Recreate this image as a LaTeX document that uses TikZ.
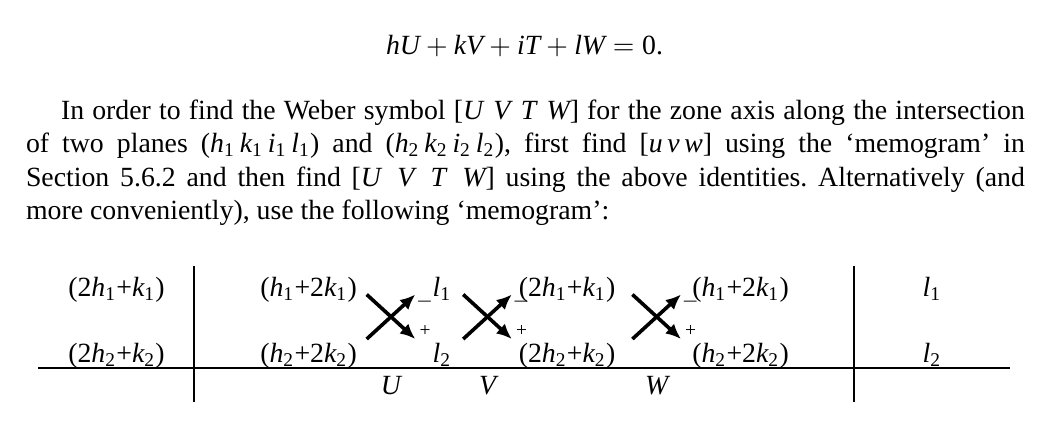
\documentclass[tikz,border=0pt]{standalone}
\usepackage[no-math]{fontspec}
\setmainfont{Liberation Serif}[NFSSFamily=libserif]
\DeclareSymbolFont{letters}{TU}{libserif}{m}{it}
\DeclareSymbolFont{operators}{TU}{libserif}{m}{n}
\DeclareSymbolFont{cmops}{OT1}{cmr}{m}{n}
\DeclareMathSymbol{+}{\mathbin}{cmops}{"2B}
\DeclareMathSymbol{=}{\mathrel}{cmops}{"3D}
\DeclareMathSymbol{\tplus}{\mathord}{operators}{"2B}
\usepackage{tikz}
\usetikzlibrary{arrows.meta}
\tikzset{
    memo-text/.style = {anchor=base, inner sep=0pt},
    memo-sign/.style = {inner sep=0pt, font=\scriptsize},
    memo-arrow/.style = {line width=1.3pt, -{Latex[length=5.5pt,width=4.8pt]}},
    memo-rule/.style = {line width=0.4pt},
    body-text/.style = {anchor=base west, inner sep=0pt},
}

\begin{document}
\begin{tikzpicture}[x=0.36pt, y=-0.36pt, font=\fontsize{10}{12}\selectfont]
\useasboundingbox (0,0) rectangle (1064,426);

\node[memo-text] (identity) at (524.5,54) {$hU+kV+iT+lW=0$.};

\node[body-text] (body) at (25.5,119.4) {\begin{minipage}[t]{359.6pt}\frenchspacing
    \hspace*{12.6pt}In order to find the Weber symbol $[U\;V\;T\;W]$ for the zone axis along the intersection\linebreak
    of two planes $(h_1\,k_1\,i_1\,l_1)$ and $(h_2\,k_2\,i_2\,l_2)$, first find $[u\,v\,w]$ using the ‘memogram’ in\linebreak
    Section 5.6.2 and then find $[U\;V\;T\;W]$ using the above identities. Alternatively (and\linebreak
    more conveniently), use the following ‘memogram’:
\end{minipage}};

% memogram
\node[memo-text] (row1-a) at (116.5,296.5) {$(2h_1\tplus k_1)$};
\node[memo-text] (row2-a) at (116.5,362) {$(2h_2\tplus k_2)$};
\node[memo-text] (row1-b) at (308.5,296.5) {$(h_1\tplus 2k_1)$};
\node[memo-text] (row2-b) at (308.5,362) {$(h_2\tplus 2k_2)$};
\node[memo-text] (row1-c) at (442,296.5) {$l_1$};
\node[memo-text] (row2-c) at (442,362) {$l_2$};
\node[memo-text] (row1-d) at (567,296.5) {$(2h_1\tplus k_1)$};
\node[memo-text] (row2-d) at (567,362) {$(2h_2\tplus k_2)$};
\node[memo-text] (row1-e) at (740.5,296.5) {$(h_1\tplus 2k_1)$};
\node[memo-text] (row2-e) at (740.5,362) {$(h_2\tplus 2k_2)$};
\node[memo-text] (row1-f) at (932,296.5) {$l_1$};
\node[memo-text] (row2-f) at (932,362) {$l_2$};

\coordinate (rule-w) at (38,368);
\coordinate (rule-e) at (1010,368);
\coordinate (bar1-n) at (194,266);
\coordinate (bar1-s) at (194,402);
\coordinate (bar2-n) at (854,266);
\coordinate (bar2-s) at (854,402);
\draw[memo-rule] (rule-w) -- (rule-e);
\draw[memo-rule] (bar1-n) -- (bar1-s);
\draw[memo-rule] (bar2-n) -- (bar2-s);

\foreach \cx/\axis in {391/U, 487.5/V, 656.7/W} {
    \coordinate (\axis-nw) at (\cx-24.3,294.5);
    \coordinate (\axis-ne) at (\cx+24.3,294.5);
    \coordinate (\axis-sw) at (\cx-24.3,339);
    \coordinate (\axis-se) at (\cx+24.3,339);
    \draw[memo-arrow] (\axis-nw) -- (\axis-se);
    \draw[memo-arrow] (\axis-sw) -- (\axis-ne);
    \node[memo-sign] (\axis-minus) at (\cx+33.5,301.5) {$-$};
    \node[memo-sign] (\axis-plus) at (\cx+34,331) {$\tplus$};
    \node[memo-text] (\axis-label) at (\cx,394) {$\axis$};
}
\end{tikzpicture}
\end{document}
